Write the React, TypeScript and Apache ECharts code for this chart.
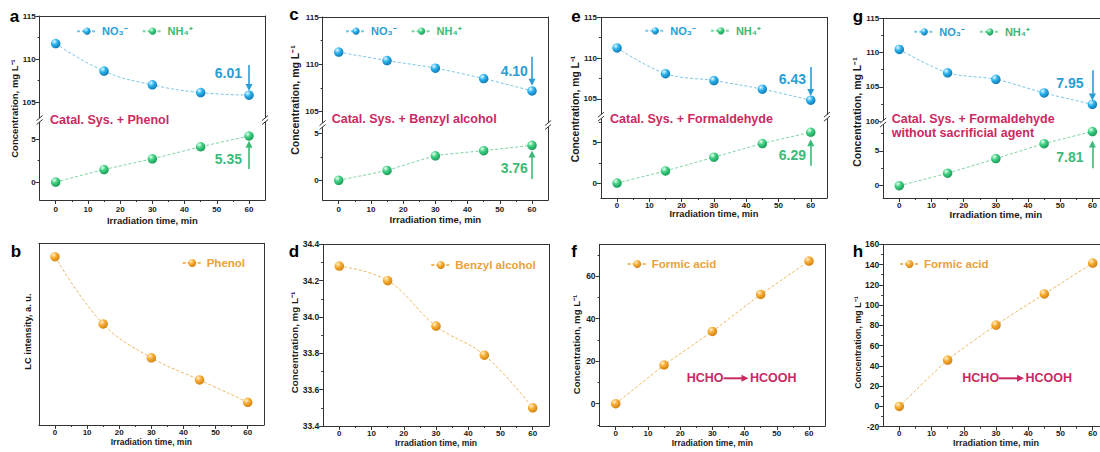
import React, { useEffect, useRef } from "react";
import * as echarts from "echarts";

// ---------------- data ----------------
const times = [0, 15, 30, 45, 60];
const xMajorTicks = [0, 10, 20, 30, 40, 50, 60];
const xMinorTicks = [5, 15, 25, 35, 45, 55];

const no3Phenol = [111.8, 108.6, 107.0, 106.1, 105.8];
const nh4Phenol = [0, 1.45, 2.7, 4.1, 5.35];
const no3Benzyl = [111.3, 110.4, 109.6, 108.5, 107.2];
const nh4Benzyl = [0, 1.05, 2.6, 3.15, 3.72];
const no3Formaldehyde = [111.25, 108.1, 107.25, 106.2, 104.85];
const nh4Formaldehyde = [0, 1.5, 3.2, 4.9, 6.3];
const no3NoAgent = [110.45, 107.05, 106.1, 104.1, 102.45];
const nh4NoAgent = [0, 1.8, 3.9, 6.05, 7.8];

const phenolLC = [92.6, 55.6, 37.0, 24.8, 12.5];
const benzylConc = [34.28, 34.2, 33.95, 33.79, 33.5];
const formicFormaldehyde = [0, 18.2, 34.0, 51.4, 67.1];
const formicNoAgent = [0, 45.8, 80.3, 111.0, 141.5];

const removalValues = ["6.01", "4.10", "6.43", "7.95"];
const formationValues = ["5.35", "3.76", "6.29", "7.81"];
const systemLabels = [
  "Catal. Sys. + Phenol",
  "Catal. Sys. + Benzyl alcohol",
  "Catal. Sys. + Formaldehyde",
  "Catal. Sys. + Formaldehyde\nwithout sacrificial agent",
];

const upperTicks = [100, 105, 110, 115];
const upperMinor = [102.5, 107.5, 112.5];
const lowerTicks = [0, 5];
const lowerMinor = [2.5, 7.5];
const benzylTicks = [33.4, 33.6, 33.8, 34.0, 34.2, 34.4];
const benzylMinor = [33.5, 33.7, 33.9, 34.1, 34.3];
const formicFTicks = [0, 20, 40, 60];
const formicFMinor = [-10, 10, 30, 50, 70];
const formicHTicks = [-20, 0, 20, 40, 60, 80, 100, 120, 140, 160];
const formicHMinor = [-10, 10, 30, 50, 70, 90, 110, 130, 150];

const NO3 = "NO₃⁻";
const NH4 = "NH₄⁺";
const X_TITLE = "Irradiation time, min";
const CONC_TITLE = "Concentration, mg L⁻¹";

// ---------------- style ----------------
const FONT = "'Liberation Sans', Arial, Helvetica, sans-serif";
const AXIS = "#333";
const TXT = "#1a1a1a";
const BLUE_TXT = "#2a9ed4";
const GREEN_TXT = "#3dba78";
const ORANGE_TXT = "#e9a23a";
const MAG = "#c92a63";
const BLUE_LINE = "#7cc6e6";
const GREEN_LINE = "#80d4a2";
const ORANGE_LINE = "#ebb865";

const ball = (light: string, mid: string, dark: string) => ({
  type: "radial",
  x: 0.35,
  y: 0.3,
  r: 0.8,
  colorStops: [
    { offset: 0, color: light },
    { offset: 0.4, color: mid },
    { offset: 1, color: dark },
  ],
});
const blueBall = ball("#e8f9ff", "#2cb3ee", "#0b6ea6");
const greenBall = ball("#eafff0", "#3fd083", "#12924f");
const orangeBall = ball("#fff3d0", "#f6ad34", "#cf7a08");

// ---------------- layout ----------------
const topLayout = [
  { letter: "a", baseline: 22, letterX: 14.5, left: 39.6, width: 225.5, top: 16, brk: 120, bottom: 200, upMin: 102.91, lowMax: 7.21, lowMin: -2.09,
    yTitle: [14, 108.5, 9.5], legend: [76, 32.7], sys: [50, 119.5], rem: [53.6, 108.4], remArrow: [109.3, 106.7], form: [53.6, 2.7], formArrow: [1.5, 4.4],
    labelMargin: 5, nameGap: 15, titleSize: 9.5, no3: no3Phenol, nh4: nh4Phenol, smooth: 0.45 },
  { letter: "c", baseline: 20, letterX: 294, left: 322.6, width: 225.5, top: 17, brk: 125, bottom: 200, upMin: 103.6, lowMax: 5.88, lowMin: -2.1,
    yTitle: [295, 100, 10.5], legend: [345, 32.7], sys: [331.7, 119.3], rem: [54.5, 109.3], remArrow: [110.8, 108.1], form: [54.5, 1.28], formArrow: [0.14, 2.8],
    labelMargin: 5, nameGap: 14, titleSize: 9.6, no3: no3Benzyl, nh4: nh4Benzyl, smooth: 0.3 },
  { letter: "e", baseline: 22, letterX: 576, left: 600.9, width: 226, top: 17.3, brk: 116.7, bottom: 198, upMin: 102.83, lowMax: 8.23, lowMin: -1.86,
    yTitle: [575, 109, 10.3], legend: [644.3, 32.3], sys: [610, 119], rem: [54.3, 107.5], remArrow: [108.9, 105.8], form: [54.3, 3.47], formArrow: [2.15, 5.0],
    labelMargin: 3, nameGap: 9, titleSize: 9.3, no3: no3Formaldehyde, nh4: nh4Formaldehyde, smooth: 0.35 },
  { letter: "g", baseline: 22, letterX: 858, left: 883.2, width: 225.3, top: 18.3, brk: 122.5, bottom: 198, upMin: 99.79, lowMax: 9.1, lowMin: -1.77,
    yTitle: [856.7, 112, 10.5], legend: [913.3, 33.3], sys: [891.7, 126.3], rem: [53, 105.6], remArrow: [107.4, 103.5], form: [53, 4.2], formArrow: [2.5, 6.0],
    labelMargin: 3, nameGap: 10, titleSize: 9.7, no3: no3NoAgent, nh4: nh4NoAgent, smooth: 0.3 },
];

const bottomLayout = [
  { letter: "b", baseline: 257, letterX: 16, left: 38.9, width: 224.9, top: 243.3, bottom: 425, min: 0, max: 100, ticks: [] as number[], minor: [] as number[],
    data: phenolLC, name: "Phenol", yTitle: "LC intensity, a. u.", yTitlePos: [28.3, 331.5, 9.3], legend: [181.7, 264], smooth: 0.4, fmt: (v: number) => String(v), titleSize: 8.5 },
  { letter: "d", baseline: 257, letterX: 294, left: 323.2, width: 225.6, top: 244.3, bottom: 426, min: 33.4, max: 34.4, ticks: benzylTicks, minor: benzylMinor,
    data: benzylConc, name: "Benzyl alcohol", yTitle: CONC_TITLE, yTitlePos: [294.3, 342.5, 9.8], legend: [430.3, 266], smooth: 0.4, fmt: (v: number) => v.toFixed(1), titleSize: 8.6 },
  { letter: "f", baseline: 257, letterX: 574, left: 599.6, width: 225.5, top: 244.3, bottom: 426, min: -10.5, max: 75, ticks: formicFTicks, minor: formicFMinor,
    data: formicFormaldehyde, name: "Formic acid", yTitle: CONC_TITLE, yTitlePos: [576.7, 344.5, 9.6], legend: [626.7, 265], smooth: 0, fmt: (v: number) => String(v), titleSize: 8.5 },
  { letter: "h", baseline: 257, letterX: 858, left: 883.2, width: 225.6, top: 244.3, bottom: 426.7, min: -20, max: 160, ticks: formicHTicks, minor: formicHMinor,
    data: formicNoAgent, name: "Formic acid", yTitle: CONC_TITLE, yTitlePos: [858.3, 342.5, 8.9], legend: [899, 265], smooth: 0.2, fmt: (v: number) => String(v), titleSize: 9 },
];

const reactions = [
  { hcho: [686.7, 378.3], arrow: [723.5, 748.5], hcooh: [750, 378.3] },
  { hcho: [962.3, 378.3], arrow: [999, 1024], hcooh: [1025.5, 378.3] },
];

function buildOption() {
  const grid: any[] = [];
  const xAxis: any[] = [];
  const yAxis: any[] = [];
  const series: any[] = [];
  const legend: any[] = [];
  const graphic: any[] = [];

  const line = { show: true, onZero: false, lineStyle: { color: AXIS, width: 1 } };
  const noLine = { show: false, onZero: false };
  const addGrid = (left: number, top: number, width: number, height: number) => {
    grid.push({ left, top, width, height, containLabel: false, outerBoundsMode: "none" });
    return grid.length - 1;
  };
  const addX = (o: any) => {
    xAxis.push({ type: "value", min: -5, max: 65, splitLine: { show: false }, ...o });
    return xAxis.length - 1;
  };
  const addY = (o: any) => {
    yAxis.push({ type: "value", splitLine: { show: false }, ...o });
    return yAxis.length - 1;
  };
  const tickFont = (size: number, margin: number) => ({ fontSize: size, fontWeight: "bold", color: TXT, fontFamily: FONT, margin });

  const xMain = (gi: number, margin: number, gap: number, titleSize: number, labelSize: number) =>
    addX({
      gridIndex: gi, position: "bottom", axisLine: line,
      axisTick: { show: true, length: 4, customValues: xMajorTicks, lineStyle: { color: AXIS } },
      axisLabel: { show: true, customValues: xMajorTicks, ...tickFont(labelSize, margin) },
      name: X_TITLE, nameLocation: "middle", nameGap: gap,
      nameTextStyle: { fontSize: titleSize, fontWeight: "bold", color: TXT, fontFamily: FONT },
    });
  const xMinor = (gi: number) =>
    addX({ gridIndex: gi, position: "bottom", axisLine: noLine, axisTick: { show: true, length: 2, customValues: xMinorTicks, lineStyle: { color: AXIS } }, axisLabel: { show: false } });
  const xBorder = (gi: number) =>
    addX({ gridIndex: gi, position: "top", axisLine: line, axisTick: { show: false }, axisLabel: { show: false } });
  const yMain = (gi: number, min: number, max: number, ticks: number[], fmt: (v: number) => string, size: number) =>
    addY({
      gridIndex: gi, position: "left", min, max, axisLine: line,
      axisTick: { show: ticks.length > 0, length: 4, customValues: ticks, lineStyle: { color: AXIS } },
      axisLabel: { show: ticks.length > 0, customValues: ticks, formatter: fmt, ...tickFont(size, 4) },
    });
  const yMinor = (gi: number, min: number, max: number, ticks: number[]) => {
    if (!ticks.length) return;
    addY({ gridIndex: gi, position: "left", min, max, axisLine: noLine, axisTick: { show: true, length: 2, customValues: ticks, lineStyle: { color: AXIS } }, axisLabel: { show: false } });
  };
  const yBorder = (gi: number) =>
    addY({ gridIndex: gi, position: "right", min: 0, max: 1, axisLine: line, axisTick: { show: false }, axisLabel: { show: false } });

  const letter = (t: string, x: number, baseline: number) =>
    graphic.push({ type: "text", x, y: baseline - 6, z: 100, style: { text: t, fontSize: 17, fontWeight: "bold", fontFamily: FONT, fill: "#000", align: "center", verticalAlign: "middle" } });
  const vTitle = (t: string, x: number, y: number, size: number) =>
    graphic.push({ type: "text", x, y, rotation: Math.PI / 2, z: 100, style: { text: t, fontSize: size, fontWeight: "bold", fontFamily: FONT, fill: TXT, align: "center", verticalAlign: "middle" } });
  const breakMark = (x: number, y: number) => {
    graphic.push({ type: "rect", z: 100, shape: { x: x - 2.5, y: y - 2, width: 5, height: 4 }, style: { fill: "#fff" } });
    graphic.push({ type: "line", z: 101, shape: { x1: x - 3, y1: y + 0.5, x2: x + 3, y2: y - 4.5 }, style: { stroke: AXIS, lineWidth: 1 } });
    graphic.push({ type: "line", z: 101, shape: { x1: x - 3, y1: y + 4.5, x2: x + 3, y2: y - 0.5 }, style: { stroke: AXIS, lineWidth: 1 } });
  };

  const annotate = (text: string, pos: number[], arrow: number[], color: string) => ({
    markPoint: {
      silent: true, symbol: "circle", symbolSize: 1, itemStyle: { color: "rgba(0,0,0,0)" },
      label: { show: true, position: "inside", formatter: text, color, fontSize: 14, fontWeight: "bold", fontFamily: FONT },
      data: [{ coord: pos }],
    },
    markLine: {
      silent: true, symbol: ["none", "triangle"], symbolSize: 7, symbolOffset: [0, 0],
      lineStyle: { color, width: 1.6, type: "solid" }, itemStyle: { color },
      label: { show: false },
      data: [[{ coord: [60, arrow[0]] }, { coord: [60, arrow[1]] }]],
    },
  });

  const lineSeries = (name: string, xi: number, yi: number, values: number[], color: any, lineColor: string, smooth: number, extra: any = {}) => ({
    type: "line", name, xAxisIndex: xi, yAxisIndex: yi,
    data: times.map((t, i) => [t, values[i]]),
    smooth, symbol: "circle", symbolSize: 9.5, showSymbol: true,
    itemStyle: { color, borderWidth: 0 },
    lineStyle: { color: lineColor, width: 1, type: [3, 2] },
    emphasis: { disabled: true }, z: 3, ...extra,
  });

  // ------- top row: broken axis panels -------
  topLayout.forEach((p, k) => {
    const gU = addGrid(p.left, p.top, p.width, p.brk - p.top);
    const gL = addGrid(p.left, p.brk, p.width, p.bottom - p.brk);
    const xu = xBorder(gU);
    const upT = upperTicks.filter((v) => v >= p.upMin - 1e-6);
    const upM = upperMinor.filter((v) => v >= p.upMin);
    const yu = yMain(gU, p.upMin, 115, upT, (v) => String(v), 8);
    yMinor(gU, p.upMin, 115, upM);
    yBorder(gU);
    const xl = xMain(gL, p.labelMargin, p.nameGap, p.titleSize, 8);
    xMinor(gL);
    const loM = lowerMinor.filter((v) => v <= p.lowMax);
    const yl = yMain(gL, p.lowMin, p.lowMax, lowerTicks, (v) => String(v), 8);
    yMinor(gL, p.lowMin, p.lowMax, loM);
    yBorder(gL);

    series.push(lineSeries(NO3, xu, yu, p.no3, blueBall, BLUE_LINE, p.smooth, annotate(removalValues[k], p.rem, p.remArrow, BLUE_TXT)));
    series.push(lineSeries(NH4, xl, yl, p.nh4, greenBall, GREEN_LINE, 0.15, annotate(formationValues[k], p.form, p.formArrow, GREEN_TXT)));

    legend.push({
      left: p.legend[0], top: p.legend[1] - 7, padding: 0, itemWidth: 20, itemHeight: 9, itemGap: 14, selectedMode: false,
      textStyle: { fontSize: 11, fontWeight: "bold", fontFamily: FONT },
      data: [
        { name: NO3, textStyle: { color: BLUE_TXT } },
        { name: NH4, textStyle: { color: GREEN_TXT } },
      ],
    });

    letter(p.letter, p.letterX, p.baseline);
    vTitle(CONC_TITLE, p.yTitle[0], p.yTitle[1], p.yTitle[2]);
    breakMark(p.left, p.brk);
    breakMark(p.left + p.width, p.brk);
    graphic.push({
      type: "text", x: p.sys[0], y: p.sys[1], z: 100,
      style: { text: systemLabels[k], fontSize: 12.5, fontWeight: "bold", fontFamily: FONT, fill: MAG, align: "left", verticalAlign: "middle", lineHeight: 14 },
    });
  });

  // ------- bottom row -------
  bottomLayout.forEach((p) => {
    const g = addGrid(p.left, p.top, p.width, p.bottom - p.top);
    const xi = xMain(g, 3, 12, p.titleSize, 8);
    xMinor(g);
    xBorder(g);
    const yi = yMain(g, p.min, p.max, p.ticks, p.fmt, 8.5);
    yMinor(g, p.min, p.max, p.minor);
    yBorder(g);
    series.push(lineSeries(p.name, xi, yi, p.data, orangeBall, ORANGE_LINE, p.smooth));
    legend.push({
      left: p.legend[0], top: p.legend[1] - 7, padding: 0, itemWidth: 19, itemHeight: 10, selectedMode: false,
      textStyle: { fontSize: 11.5, fontWeight: "bold", fontFamily: FONT, color: ORANGE_TXT },
      data: [{ name: p.name, textStyle: { color: ORANGE_TXT } }],
    });
    letter(p.letter, p.letterX, p.baseline);
    vTitle(p.yTitle, p.yTitlePos[0], p.yTitlePos[1], p.yTitlePos[2]);
  });

  // HCHO -> HCOOH
  reactions.forEach((r) => {
    const st = { fontSize: 12.5, fontWeight: "bold", fontFamily: FONT, fill: MAG, verticalAlign: "middle" };
    graphic.push({ type: "text", x: r.hcho[0], y: r.hcho[1], z: 100, style: { ...st, text: "HCHO", align: "left" } });
    graphic.push({ type: "line", z: 100, shape: { x1: r.arrow[0], y1: r.hcho[1], x2: r.arrow[1] - 5, y2: r.hcho[1] }, style: { stroke: MAG, lineWidth: 2 } });
    graphic.push({ type: "polygon", z: 100, shape: { points: [[r.arrow[1] - 7, r.hcho[1] - 3.5], [r.arrow[1], r.hcho[1]], [r.arrow[1] - 7, r.hcho[1] + 3.5]] }, style: { fill: MAG } });
    graphic.push({ type: "text", x: r.hcooh[0], y: r.hcooh[1], z: 100, style: { ...st, text: "HCOOH", align: "left" } });
  });

  return { animation: false, backgroundColor: "#fff", grid, xAxis, yAxis, series, legend, graphic };
}

export default function App() {
  const ref = useRef<HTMLDivElement>(null);
  useEffect(() => {
    if (!ref.current) return;
    const chart = echarts.init(ref.current, undefined, { renderer: "svg" });
    chart.setOption(buildOption() as any);
    return () => chart.dispose();
  }, []);
  return <div ref={ref} style={{ position: "fixed", left: 0, top: 0, width: 1100, height: 452, background: "#fff" }} />;
}
